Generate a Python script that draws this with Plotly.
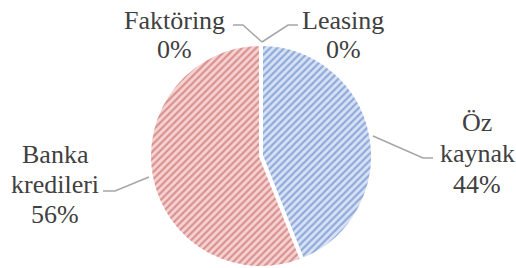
import plotly.graph_objects as go

W, H = 516, 268

categories = ["Öz kaynak", "Banka kredileri", "Faktöring", "Leasing"]
values = [44, 56, 0, 0]
label_lines = {
    "Öz kaynak": ["Öz", "kaynak", "44%"],
    "Banka kredileri": ["Banka", "kredileri", "56%"],
    "Faktöring": ["Faktöring", "0%"],
    "Leasing": ["Leasing", "0%"],
}

fg_colors = ["#4472C4", "#C0504D", "#9BBB59", "#8064A2"]
bg_colors = ["#D9E2F3", "#F4D3D2", "#E6EED5", "#E0D9EA"]

fig = go.Figure(go.Pie(
    labels=categories,
    values=values,
    sort=False,
    direction="clockwise",
    rotation=0,
    textinfo="none",
    hoverinfo="label+percent",
    showlegend=False,
    marker=dict(
        colors=bg_colors,
        line=dict(color="white", width=4),
        pattern=dict(shape="/", fgcolor=fg_colors, bgcolor=bg_colors,
                     size=5, solidity=0.45, fillmode="overlay"),
    ),
    domain=dict(x=[149 / W, 373 / W], y=[0, 224 / H]),
))

def px(x):
    return x / W

def py(y):
    return 1 - y / H

label_pos = {
    "Öz kaynak": (477, [123, 153, 184]),
    "Banka kredileri": (55, [154, 184, 214]),
    "Faktöring": (174, [20, 50]),
    "Leasing": (343, [20, 50]),
}

FONT = "Liberation Serif"

annotations = []
for cat in categories:
    cx, ys = label_pos[cat]
    for txt, yy in zip(label_lines[cat], ys):
        annotations.append(dict(
            x=px(cx), y=py(yy), xref="paper", yref="paper",
            text=txt, showarrow=False, xanchor="center", yanchor="middle",
            font=dict(family=FONT, size=26, color="#404040"),
        ))

leaders = [
    [(233, 25), (243, 25), (262, 42)],
    [(262, 42), (288, 25), (298, 25)],
    [(373, 136), (423, 158), (433, 158)],
    [(103, 191), (115, 191), (149, 177)],
]
shapes = []
for pts in leaders:
    path = "M " + " L ".join(f"{px(x):.5f},{py(y):.5f}" for x, y in pts)
    shapes.append(dict(type="path", path=path, xref="paper", yref="paper",
                       line=dict(color="#A6A6A6", width=1.5)))

fig.update_layout(
    template="none",
    width=W, height=H,
    margin=dict(l=0, r=0, t=0, b=0),
    paper_bgcolor="white", plot_bgcolor="white",
    font=dict(family=FONT, color="#404040"),
    annotations=annotations,
    shapes=shapes,
)

fig.write_html("out.html", post_script="document.body.style.margin='0';",
               config={"displayModeBar": False})
